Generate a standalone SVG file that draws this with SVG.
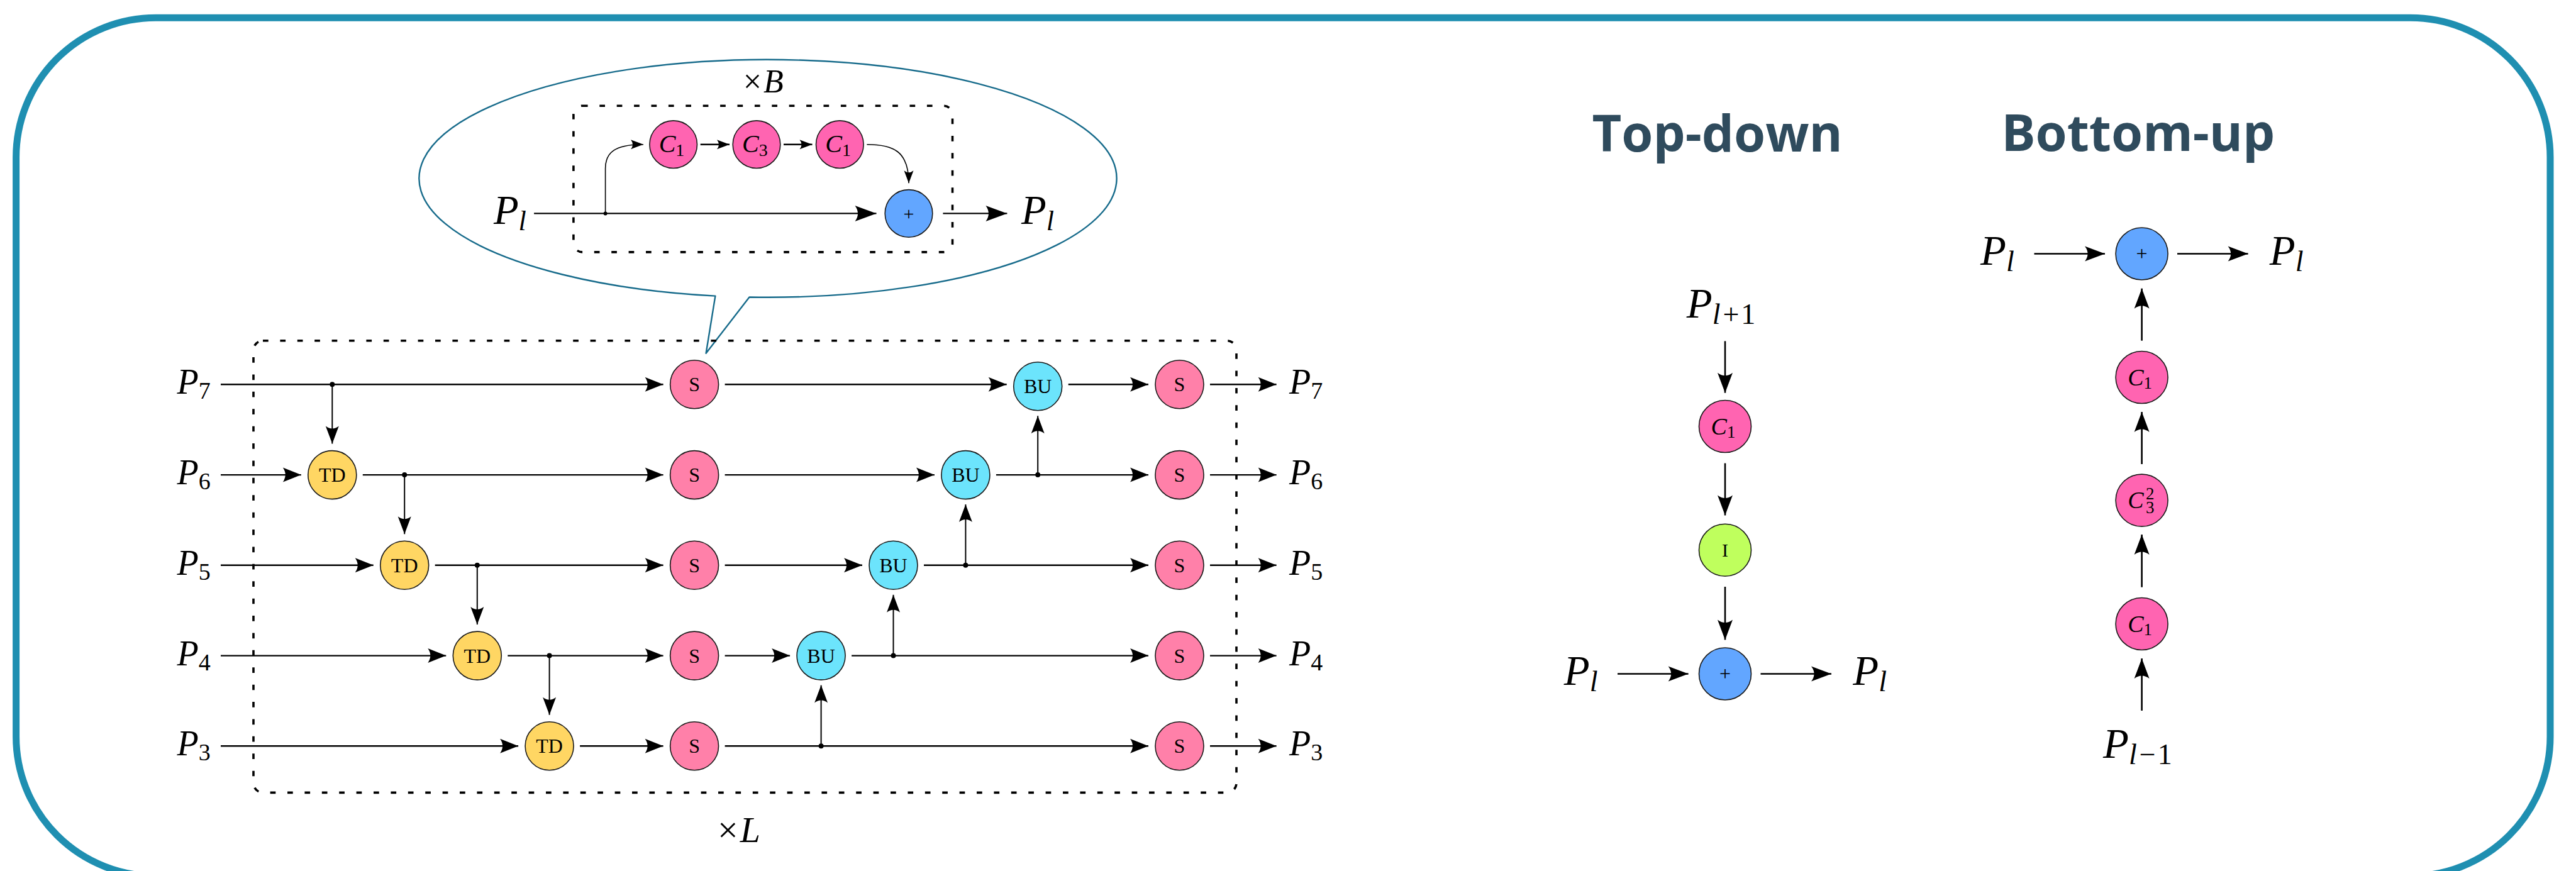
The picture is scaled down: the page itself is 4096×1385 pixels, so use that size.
<svg xmlns="http://www.w3.org/2000/svg" width="4096" height="1385" viewBox="0 0 4096 1385">
<defs>
<style>
.frame{fill:none;stroke:#1F8FB1;stroke-width:11}
.callout{fill:none;stroke:#176B8B;stroke-width:2.4;stroke-linejoin:round}
.box{fill:none;stroke:#000;stroke-width:3.6;stroke-dasharray:8.7 18.7}
.n{stroke:#1a1a1a;stroke-width:1.6}
.s{fill:#FF80A9}
.td{fill:#FFD663}
.bu{fill:#6CE4FC}
.c{fill:#FF64B1}
.add{fill:#62A6FF}
.i{fill:#BFFF5D}
.h{fill:none;stroke:#000;stroke-width:2.4}
.v{fill:none;stroke:#000;stroke-width:2}
.thin{fill:none;stroke:#000;stroke-width:1.6}
.rl{fill:none;stroke:#000;stroke-width:2.6}
.dot{fill:#000}
text{font-family:"Liberation Serif","Times New Roman",serif;fill:#000}
.nt{font-size:32px;text-anchor:middle}
.it{font-style:italic}
.pl{font-size:56px}
.sub{font-size:38px;font-style:normal}
.title{font-family:"Open Sans","Liberation Sans",sans-serif;font-weight:700;font-size:81px;fill:#2F4B5D;text-anchor:middle}
</style>
<marker id="am" viewBox="-30 -12 31 24" markerWidth="31" markerHeight="24" refX="0" refY="0" orient="auto" markerUnits="userSpaceOnUse"><path d="M0,0 L-29,-11.5 Q-21,0 -29,11.5 Z" fill="#000"/></marker>
<marker id="av" viewBox="-29 -11 30 22" markerWidth="30" markerHeight="22" refX="0" refY="0" orient="auto" markerUnits="userSpaceOnUse"><path d="M0,0 L-28,-10.5 Q-20,0 -28,10.5 Z" fill="#000"/></marker>
<marker id="ab" viewBox="-35 -13 36 26" markerWidth="36" markerHeight="26" refX="0" refY="0" orient="auto" markerUnits="userSpaceOnUse"><path d="M0,0 L-34,-12.5 Q-25,0 -34,12.5 Z" fill="#000"/></marker>
<marker id="as" viewBox="-21 -8 22 16" markerWidth="22" markerHeight="16" refX="0" refY="0" orient="auto" markerUnits="userSpaceOnUse"><path d="M0,0 L-20,-7.5 Q-14,0 -20,7.5 Z" fill="#000"/></marker>
<marker id="ar" viewBox="-33 -13 34 26" markerWidth="34" markerHeight="26" refX="0" refY="0" orient="auto" markerUnits="userSpaceOnUse"><path d="M0,0 L-32,-12 Q-23,0 -32,12 Z" fill="#000"/></marker>
</defs>

<rect id="frame" class="frame" x="25.6" y="28.2" width="4029.4" height="1365" rx="222" ry="222"/>

<!-- callout -->
<g id="callout">
<path class="callout" d="M1137.4,470.65 A554.6,189 0 1 1 1191.5,472.54 L1122.6,561.7 Z"/>
<rect class="box" x="911.9" y="168.2" width="602.6" height="232.7" rx="14"/>
<text x="1213.8" y="146.7" font-size="52" text-anchor="middle">×<tspan class="it" dx="3">B</tspan></text>
<text x="784.9" y="355.7" font-size="65" class="it">P<tspan font-size="44" dy="10">l</tspan></text>
<text x="1624.1" y="355.7" font-size="65" class="it">P<tspan font-size="44" dy="10">l</tspan></text>
</g>
<g id="cb-c1a"><circle class="n c" cx="1070.7" cy="229.7" r="37.8"/><text x="1068" y="242" font-size="40" text-anchor="middle"><tspan class="it">C</tspan><tspan font-size="28" dy="6">1</tspan></text></g>
<g id="cb-c3"><circle class="n c" cx="1203" cy="229.7" r="37.8"/><text x="1200.3" y="242" font-size="40" text-anchor="middle"><tspan class="it">C</tspan><tspan font-size="28" dy="6">3</tspan></text></g>
<g id="cb-c1b"><circle class="n c" cx="1335.3" cy="229.7" r="37.8"/><text x="1332.6" y="242" font-size="40" text-anchor="middle"><tspan class="it">C</tspan><tspan font-size="28" dy="6">1</tspan></text></g>
<g id="cb-add"><circle class="n add" cx="1445" cy="339.4" r="37.8"/><text x="1445" y="350" font-size="30" text-anchor="middle">+</text></g>

<!-- main block -->
<rect id="mainbox" class="box" x="403" y="541.7" width="1563" height="718.7" rx="15"/>
<text x="1175" y="1339" font-size="58" text-anchor="middle">×<tspan class="it" dx="3">L</tspan></text>

<g id="labels-left">
<text class="pl it" x="281.6" y="626.3">P<tspan class="sub" dy="8">7</tspan></text>
<text class="pl it" x="281.6" y="770.1">P<tspan class="sub" dy="8">6</tspan></text>
<text class="pl it" x="281.6" y="913.8">P<tspan class="sub" dy="8">5</tspan></text>
<text class="pl it" x="281.6" y="1057.6">P<tspan class="sub" dy="8">4</tspan></text>
<text class="pl it" x="281.6" y="1201.3">P<tspan class="sub" dy="8">3</tspan></text>
</g>
<g id="labels-right">
<text class="pl it" x="2050" y="626.3">P<tspan class="sub" dy="8">7</tspan></text>
<text class="pl it" x="2050" y="770.1">P<tspan class="sub" dy="8">6</tspan></text>
<text class="pl it" x="2050" y="913.8">P<tspan class="sub" dy="8">5</tspan></text>
<text class="pl it" x="2050" y="1057.6">P<tspan class="sub" dy="8">4</tspan></text>
<text class="pl it" x="2050" y="1201.3">P<tspan class="sub" dy="8">3</tspan></text>
</g>

<g id="td6"><circle class="n td" cx="528.3" cy="755.1" r="38.5"/><text class="nt" x="528.3" y="766.1">TD</text></g>
<g id="td5"><circle class="n td" cx="643.2" cy="898.8" r="38.5"/><text class="nt" x="643.2" y="909.8">TD</text></g>
<g id="td4"><circle class="n td" cx="758.8" cy="1042.6" r="38.5"/><text class="nt" x="758.8" y="1053.6">TD</text></g>
<g id="td3"><circle class="n td" cx="873.6" cy="1186.3" r="38.5"/><text class="nt" x="873.6" y="1197.3">TD</text></g>

<g id="s7a"><circle class="n s" cx="1104.1" cy="611.3" r="38.5"/><text class="nt" x="1104.1" y="622.3">S</text></g>
<g id="s6a"><circle class="n s" cx="1104.1" cy="755.1" r="38.5"/><text class="nt" x="1104.1" y="766.1">S</text></g>
<g id="s5a"><circle class="n s" cx="1104.1" cy="898.8" r="38.5"/><text class="nt" x="1104.1" y="909.8">S</text></g>
<g id="s4a"><circle class="n s" cx="1104.1" cy="1042.6" r="38.5"/><text class="nt" x="1104.1" y="1053.6">S</text></g>
<g id="s3a"><circle class="n s" cx="1104.1" cy="1186.3" r="38.5"/><text class="nt" x="1104.1" y="1197.3">S</text></g>

<g id="bu4"><circle class="n bu" cx="1305.6" cy="1042.6" r="38.5"/><text class="nt" x="1305.6" y="1053.6">BU</text></g>
<g id="bu5"><circle class="n bu" cx="1420.5" cy="898.8" r="38.5"/><text class="nt" x="1420.5" y="909.8">BU</text></g>
<g id="bu6"><circle class="n bu" cx="1535.4" cy="755.1" r="38.5"/><text class="nt" x="1535.4" y="766.1">BU</text></g>
<g id="bu7"><circle class="n bu" cx="1650.2" cy="614.3" r="38.5"/><text class="nt" x="1650.2" y="625.3">BU</text></g>

<g id="s7b"><circle class="n s" cx="1875.5" cy="611.3" r="38.5"/><text class="nt" x="1875.5" y="622.3">S</text></g>
<g id="s6b"><circle class="n s" cx="1875.5" cy="755.1" r="38.5"/><text class="nt" x="1875.5" y="766.1">S</text></g>
<g id="s5b"><circle class="n s" cx="1875.5" cy="898.8" r="38.5"/><text class="nt" x="1875.5" y="909.8">S</text></g>
<g id="s4b"><circle class="n s" cx="1875.5" cy="1042.6" r="38.5"/><text class="nt" x="1875.5" y="1053.6">S</text></g>
<g id="s3b"><circle class="n s" cx="1875.5" cy="1186.3" r="38.5"/><text class="nt" x="1875.5" y="1197.3">S</text></g>

<!-- right panels -->
<text class="title" x="2730.6" y="240.8">Top-down</text>
<text class="title" x="3399.7" y="240">Bottom-up</text>

<g id="td-labels">
<text x="2681.7" y="504.6" font-size="67" class="it">P<tspan font-size="46" dy="10">l</tspan><tspan font-size="46" font-style="normal" dx="4">+</tspan><tspan font-size="46" font-style="normal" dx="3">1</tspan></text>
<text x="2486.8" y="1088.5" font-size="67" class="it">P<tspan font-size="46" dy="10">l</tspan></text>
<text x="2946.2" y="1088.5" font-size="67" class="it">P<tspan font-size="46" dy="10">l</tspan></text>
</g>
<g id="td-c1"><circle class="n c" cx="2743" cy="678" r="41.5"/><text x="2740" y="691" font-size="38" text-anchor="middle"><tspan class="it">C</tspan><tspan font-size="27" dy="5">1</tspan></text></g>
<g id="td-i"><circle class="n i" cx="2743" cy="874.7" r="41.5"/><text x="2743" y="885" font-size="30" text-anchor="middle">I</text></g>
<g id="td-add"><circle class="n add" cx="2743" cy="1071.5" r="41.5"/><text x="2743" y="1082" font-size="32" text-anchor="middle">+</text></g>

<g id="bu-labels">
<text x="3149" y="420.9" font-size="67" class="it">P<tspan font-size="46" dy="10">l</tspan></text>
<text x="3608.7" y="420.9" font-size="67" class="it">P<tspan font-size="46" dy="10">l</tspan></text>
<text x="3344" y="1205" font-size="67" class="it">P<tspan font-size="46" dy="10">l</tspan><tspan font-size="46" font-style="normal" dx="4">−</tspan><tspan font-size="46" font-style="normal" dx="3">1</tspan></text>
</g>
<g id="bu-add"><circle class="n add" cx="3405.6" cy="403.5" r="41.5"/><text x="3405.6" y="414" font-size="32" text-anchor="middle">+</text></g>
<g id="bu-c1a"><circle class="n c" cx="3405.6" cy="600" r="41.5"/><text x="3402.6" y="613" font-size="38" text-anchor="middle"><tspan class="it">C</tspan><tspan font-size="27" dy="5">1</tspan></text></g>
<g id="bu-c3"><circle class="n c" cx="3405.6" cy="795.6" r="41.5"/><text x="3396" y="808" font-size="38" text-anchor="middle" class="it">C</text><text x="3412" y="816" font-size="27">3</text><text x="3412" y="794" font-size="27">2</text></g>
<g id="bu-c1b"><circle class="n c" cx="3405.6" cy="992" r="41.5"/><text x="3402.6" y="1005" font-size="38" text-anchor="middle"><tspan class="it">C</tspan><tspan font-size="27" dy="5">1</tspan></text></g>

<g id="connectors">
<!-- callout -->
<path class="h" d="M849.1,339.4 H1393.5" marker-end="url(#ab)"/>
<path class="thin" d="M962.6,339.4 V268 C962.6,242 978,229.7 1023,229.7" marker-end="url(#as)"/>
<path class="h" d="M1113.7,229.7 H1160" marker-end="url(#as)"/>
<path class="h" d="M1246,229.7 H1291.5" marker-end="url(#as)"/>
<path class="thin" d="M1378.4,229.7 C1420,229.7 1445,240 1445,291.2" marker-end="url(#as)"/>
<path class="h" d="M1499.4,339.4 H1601.4" marker-end="url(#ab)"/>
<circle class="dot" cx="962.6" cy="339.4" r="3"/>
<!-- row 7 -->
<path class="h" d="M351,611.3 H1054.6" marker-end="url(#am)"/>
<path class="h" d="M1152.6,611.3 H1600.7" marker-end="url(#am)"/>
<path class="h" d="M1698.7,611.3 H1826" marker-end="url(#am)"/>
<path class="h" d="M1924,611.3 H2029.6" marker-end="url(#am)"/>
<!-- row 6 -->
<path class="h" d="M351,755.1 H478.8" marker-end="url(#am)"/>
<path class="h" d="M576.8,755.1 H1054.6" marker-end="url(#am)"/>
<path class="h" d="M1152.6,755.1 H1485.9" marker-end="url(#am)"/>
<path class="h" d="M1583.9,755.1 H1826" marker-end="url(#am)"/>
<path class="h" d="M1924,755.1 H2029.6" marker-end="url(#am)"/>
<!-- row 5 -->
<path class="h" d="M351,898.8 H593.7" marker-end="url(#am)"/>
<path class="h" d="M691.7,898.8 H1054.6" marker-end="url(#am)"/>
<path class="h" d="M1152.6,898.8 H1371" marker-end="url(#am)"/>
<path class="h" d="M1469,898.8 H1826" marker-end="url(#am)"/>
<path class="h" d="M1924,898.8 H2029.6" marker-end="url(#am)"/>
<!-- row 4 -->
<path class="h" d="M351,1042.6 H709.3" marker-end="url(#am)"/>
<path class="h" d="M807.3,1042.6 H1054.6" marker-end="url(#am)"/>
<path class="h" d="M1152.6,1042.6 H1256.1" marker-end="url(#am)"/>
<path class="h" d="M1354.1,1042.6 H1826" marker-end="url(#am)"/>
<path class="h" d="M1924,1042.6 H2029.6" marker-end="url(#am)"/>
<!-- row 3 -->
<path class="h" d="M351,1186.3 H824.1" marker-end="url(#am)"/>
<path class="h" d="M922.1,1186.3 H1054.6" marker-end="url(#am)"/>
<path class="h" d="M1152.6,1186.3 H1826" marker-end="url(#am)"/>
<path class="h" d="M1924,1186.3 H2029.6" marker-end="url(#am)"/>
<!-- verticals -->
<path class="v" d="M528.3,611.3 V705.6" marker-end="url(#av)"/>
<path class="v" d="M643.2,755.1 V849.3" marker-end="url(#av)"/>
<path class="v" d="M758.8,898.8 V993.1" marker-end="url(#av)"/>
<path class="v" d="M873.6,1042.6 V1136.8" marker-end="url(#av)"/>
<path class="v" d="M1305.6,1186.3 V1089.6" marker-end="url(#av)"/>
<path class="v" d="M1420.5,1042.6 V945.8" marker-end="url(#av)"/>
<path class="v" d="M1535.4,898.8 V802.1" marker-end="url(#av)"/>
<path class="v" d="M1650.2,755.1 V661.3" marker-end="url(#av)"/>
<circle class="dot" cx="528.3" cy="611.3" r="4"/>
<circle class="dot" cx="643.2" cy="755.1" r="4"/>
<circle class="dot" cx="758.8" cy="898.8" r="4"/>
<circle class="dot" cx="873.6" cy="1042.6" r="4"/>
<circle class="dot" cx="1305.6" cy="1186.3" r="4"/>
<circle class="dot" cx="1420.5" cy="1042.6" r="4"/>
<circle class="dot" cx="1535.4" cy="898.8" r="4"/>
<circle class="dot" cx="1650.2" cy="755.1" r="4"/>
<!-- top-down -->
<path class="rl" d="M2743,542.4 V624.7" marker-end="url(#ar)"/>
<path class="rl" d="M2743,736.6 V819.5" marker-end="url(#ar)"/>
<path class="rl" d="M2743,933 V1017.4" marker-end="url(#ar)"/>
<path class="rl" d="M2572,1071.5 H2684.6" marker-end="url(#ar)"/>
<path class="rl" d="M2799.5,1071.5 H2912" marker-end="url(#ar)"/>
<!-- bottom-up -->
<path class="rl" d="M3234.5,403.5 H3347" marker-end="url(#ar)"/>
<path class="rl" d="M3462,403.5 H3574.6" marker-end="url(#ar)"/>
<path class="rl" d="M3405.6,541.7 V458.7" marker-end="url(#ar)"/>
<path class="rl" d="M3405.6,738 V655" marker-end="url(#ar)"/>
<path class="rl" d="M3405.6,933.7 V850" marker-end="url(#ar)"/>
<path class="rl" d="M3405.6,1130 V1047" marker-end="url(#ar)"/>
</g>
</svg>
